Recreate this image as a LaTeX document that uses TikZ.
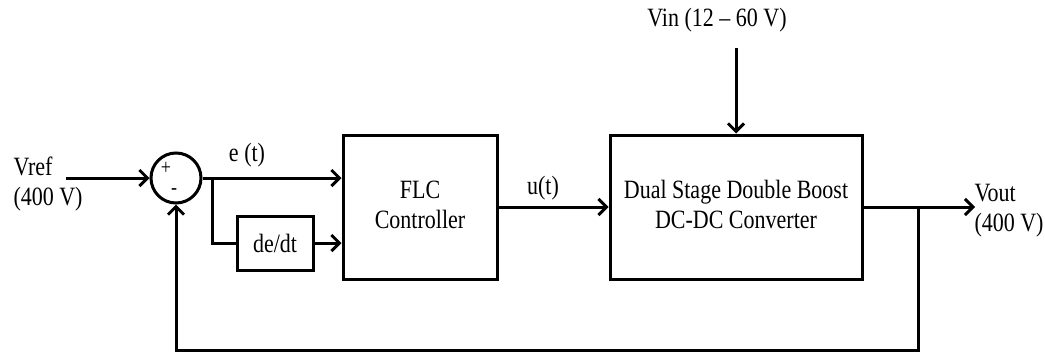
\documentclass[tikz,border=0pt]{standalone}
\usepackage{fontspec}
\setmainfont{Liberation Serif}
\usetikzlibrary{arrows.meta}
\newcommand{\stretchtxt}[1]{\scalebox{1}[1.2]{#1}}
\begin{document}
\begin{tikzpicture}[x=1pt,y=-1pt,line width=3pt,
  conn/.style={-{Straight Barb[length=8pt,width=16pt]}},
  blockbox/.style={draw,rectangle,inner sep=0pt,font=\fontsize{22}{25}\selectfont},
  sumcirc/.style={draw,circle,minimum size=50pt,inner sep=0pt},
  lbl/.style={inner sep=0pt,font=\fontsize{22}{25}\selectfont},
  sgn/.style={inner sep=0pt,font=\fontsize{18}{20}\selectfont}]
\useasboundingbox (0,0) rectangle (1045,354);
\node[sumcirc] (sum) at (176,178) {};
\node[sgn] (plus) at (166,168) {\stretchtxt{+}};
\node[sgn] (minus) at (174,192) {\stretchtxt{-}};
\node[blockbox,minimum width=154pt,minimum height=144pt] (flc) at (420,207)
  {\stretchtxt{\begin{tabular}{@{}c@{}}FLC\\Controller\end{tabular}}};
\node[blockbox,minimum width=252pt,minimum height=144pt] (conv) at (736,207)
  {\stretchtxt{\begin{tabular}{@{}c@{}}Dual Stage Double Boost\\DC-DC Converter\end{tabular}}};
\node[blockbox,minimum width=76pt,minimum height=54pt] (dedt) at (275,243)
  {\stretchtxt{de/dt}};
\node[lbl,anchor=west] (vref) at (12,184)
  {\stretchtxt{\begin{tabular}{@{}l@{}}Vref\\(400 V)\end{tabular}}};
\node[lbl,anchor=west] (vout) at (973,210)
  {\stretchtxt{\begin{tabular}{@{}l@{}}Vout\\(400 V)\end{tabular}}};
\node[lbl] (vin) at (717,20) {\stretchtxt{Vin (12 -- 60 V)}};
\node[lbl] (et) at (247,155) {\stretchtxt{e (t)}};
\node[lbl] (ut) at (543,188) {\stretchtxt{u(t)}};
\coordinate (in) at (66,178);
\coordinate (br) at (212,178);
\coordinate (vintop) at (736,48);
\coordinate (out) at (975,207);
\coordinate (fb) at (918,207);
\coordinate (fbb) at (918,350);
\draw[conn] (in) -- (sum.west);
\draw[conn] (sum.east) -- (sum.east -| flc.west);
\draw (br) |- (dedt.west);
\draw[conn] (dedt.east) -- (dedt.east -| flc.west);
\draw[conn] (flc.east) -- (conv.west);
\draw[conn] (vintop) -- (conv.north);
\draw[conn] (conv.east) -- (out);
\draw[conn] (fb) -- (fbb) -| (sum.south);
\end{tikzpicture}
\end{document}
